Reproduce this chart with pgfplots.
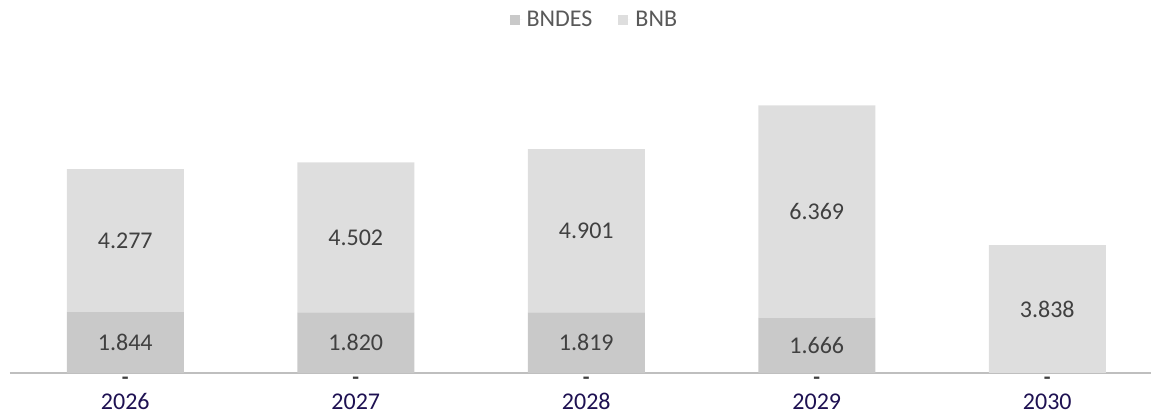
\documentclass[border=0pt]{standalone}
\usepackage{fontspec}
\setmainfont{Carlito}
\usepackage{pgfplots}
\pgfplotsset{compat=1.18}
\usepackage{pgfplotstable}
\definecolor{bndes}{HTML}{C9C9C9}
\definecolor{bnb}{HTML}{DEDEDE}
\definecolor{axisgray}{HTML}{BFBFBF}
\definecolor{labelgray}{HTML}{404040}
\definecolor{legendgray}{HTML}{595959}
\definecolor{yearcol}{HTML}{1E1152}

\pgfplotstableread{
x y label
0 1.844 1.844
1 1.820 1.820
2 1.819 1.819
3 1.666 1.666
4 0 {}
}\bndes
\pgfplotstableread{
x y label
0 4.277 4.277
1 4.502 4.502
2 4.901 4.901
3 6.369 6.369
4 3.838 3.838
}\bnb

\begin{document}
\begin{tikzpicture}
\begin{axis}[
  at={(5pt,19.5pt)}, anchor=south west,
  scale only axis, width=570.5pt, height=156.5pt,
  ybar stacked, bar width=58.5pt,
  xmin=-0.5, xmax=4.45, ymin=0, ymax=9.40,
  axis x line=bottom, axis y line=none,
  x axis line style={draw=axisgray, line width=1pt, -},
  xtick={0,...,4}, xticklabels={2026,2027,2028,2029,2030},
  major tick length=0pt,
  xticklabel style={anchor=base, yshift=-18.5pt, font=\fontsize{12}{14}\selectfont, text=yearcol},
  extra x ticks={0,...,4}, extra x tick labels={\textbf{-},\textbf{-},\textbf{-},\textbf{-},\textbf{-}},
  extra x tick style={xticklabel style={yshift=13pt, text=labelgray, font=\fontsize{11}{13}\selectfont}},
  nodes near coords, point meta=explicit symbolic,
  every node near coord/.append style={anchor=center, font=\fontsize{12}{14}\selectfont, text=labelgray},
  legend style={at={(0.513,1.1278)}, anchor=center, draw=none, fill=none, legend columns=-1, font=\fontsize{12}{14}\selectfont, text=legendgray, /tikz/every even column/.append style={column sep=11pt}},
]
\addplot[fill=bndes, draw=none, legend image code/.code={\fill[bndes] (0pt,-2.5pt) rectangle (5pt,2.5pt); \path (0pt,0pt) -- (6.5pt,0pt);}] table[x=x, y=y, meta=label] {\bndes};
\addplot[fill=bnb, draw=none, legend image code/.code={\fill[bnb] (0pt,-2.5pt) rectangle (5pt,2.5pt); \path (0pt,0pt) -- (6.5pt,0pt);}] table[x=x, y=y, meta=label] {\bnb};
\legend{BNDES, BNB}
\end{axis}
\pgfresetboundingbox
\useasboundingbox (0,0) rectangle (575.5pt,206pt);
\end{tikzpicture}
\end{document}
